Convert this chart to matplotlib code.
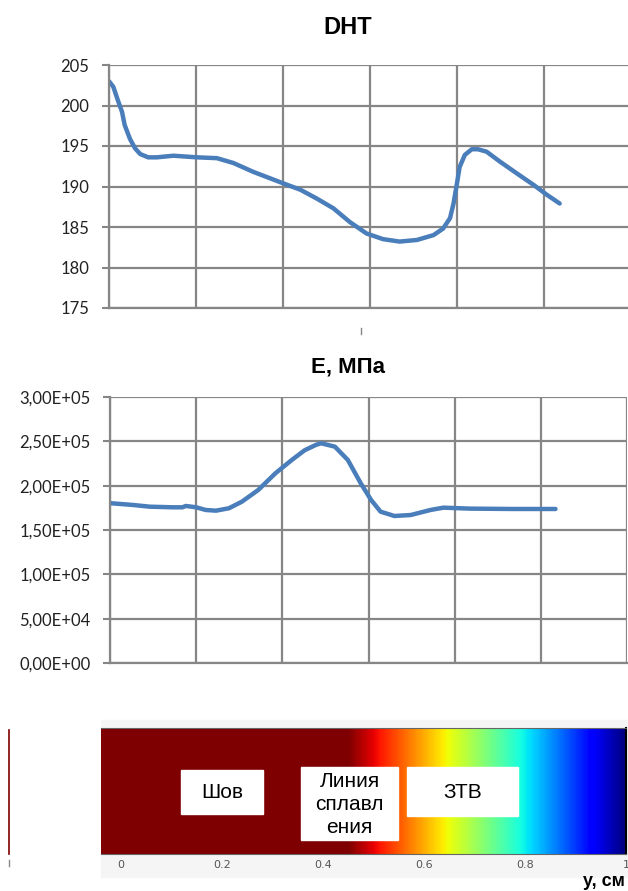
import numpy as np
import matplotlib.pyplot as plt
from matplotlib.patches import Rectangle

# DHT curve (x in grid units)
dht_x = [0, 0.05, 0.10, 0.15, 0.18, 0.24, 0.30, 0.36, 0.45, 0.55, 0.74, 1.01, 1.24, 1.43,
         1.66, 2.0, 2.20, 2.39, 2.58, 2.77, 2.96, 3.15, 3.34, 3.54, 3.73, 3.84, 3.92,
         3.96, 4.0, 4.03, 4.09, 4.17, 4.24, 4.34, 4.49, 4.69, 4.88, 5.03, 5.18]
dht_y = [203.0, 202.3, 200.7, 199.2, 197.6, 195.9, 194.7, 194.0, 193.6, 193.6, 193.8,
         193.6, 193.5, 192.9, 191.8, 190.4, 189.6, 188.5, 187.3, 185.6, 184.2, 183.5,
         183.2, 183.4, 184.0, 184.8, 186.1, 187.9, 190.4, 192.4, 193.9, 194.6, 194.6,
         194.3, 193.1, 191.6, 190.2, 189.0, 187.9]

# E, MPa curve
e_x = [0, 0.02, 0.27, 0.46, 0.73, 0.84, 0.88, 1.0, 1.11, 1.23, 1.38, 1.53, 1.72, 1.92,
       2.11, 2.26, 2.39, 2.45, 2.61, 2.76, 2.91, 3.03, 3.14, 3.30, 3.49, 3.72, 3.87,
       4.18, 4.68, 5.17]
e_y = [180.5e3, 180.1e3, 178.2e3, 176.3e3, 175.6e3, 175.6e3, 177.1e3, 175.6e3, 172.6e3,
       171.8e3, 174.5e3, 181.9e3, 195.1e3, 214e3, 229e3, 240e3, 246e3, 247.8e3, 244e3,
       229e3, 202.7e3, 183.9e3, 170.7e3, 165.8e3, 166.9e3, 172.6e3, 175.2e3, 174.1e3,
       173.7e3, 173.7e3]

# colour strip: position along y, cm
strip_pos = np.linspace(-0.04, 1.0, 400)
strip_ticks = [0, 0.2, 0.4, 0.6, 0.8, 1]
strip_ticklabels = ['0', '0.2', '0.4', '0.6', '0.8', '1']

W, H = 628, 891
fig = plt.figure(figsize=(W / 100, H / 100), dpi=100)


def fx(px):
    return px / W


def fy(py):
    return 1 - py / H


GRID = '#868686'
LINE = '#4a7ebb'
TICKFONT = 'Lato'


def style_axes(ax, yticks, ylabels):
    ax.set_xlim(0, 6)
    ax.set_xticks(range(7))
    ax.set_xticklabels([])
    ax.tick_params(axis='x', length=0)
    ax.set_yticks(yticks)
    ax.set_yticklabels(ylabels, fontsize=12, family=TICKFONT, color='#222222')
    ax.tick_params(axis='y', length=5, width=1.5, color=GRID, pad=9)
    ax.grid(True, color=GRID, linewidth=1.6)
    for s in ['top', 'right']:
        ax.spines[s].set_visible(False)
    for s in ['left', 'bottom']:
        ax.spines[s].set_color(GRID)
        ax.spines[s].set_linewidth(1.6)
    ax.set_axisbelow(True)


# top chart
ax1 = fig.add_axes([fx(109), fy(308), fx(631 - 109), 243 / H])
ax1.plot(dht_x, dht_y, color=LINE, linewidth=3.2, solid_capstyle='round', solid_joinstyle='round')
ax1.set_ylim(175, 205)
style_axes(ax1, range(175, 206, 5), [str(v) for v in range(175, 206, 5)])
fig.text(fx(348), fy(28), 'DHT', ha='center', va='center', fontsize=17,
         fontweight='bold', family='Liberation Sans')

# small stray tick between charts
fig.add_artist(plt.Line2D([fx(361), fx(361)], [fy(328), fy(334)], color=GRID, linewidth=1))

# bottom chart
ax2 = fig.add_axes([fx(110), fy(663), fx(627 - 110), 266 / H])
ax2.plot(e_x, e_y, color=LINE, linewidth=3.2, solid_capstyle='round', solid_joinstyle='round')
ax2.set_ylim(0, 3e5)
e_ticks = np.arange(0, 3.01e5, 5e4)
e_labels = ['0,00E+00', '5,00E+04', '1,00E+05', '1,50E+05', '2,00E+05', '2,50E+05', '3,00E+05']
style_axes(ax2, e_ticks, e_labels)
fig.text(fx(348), fy(367), 'E, МПа', ha='center', va='center', fontsize=16,
         fontweight='bold', family='Liberation Sans')

# colour strip
fig.add_artist(Rectangle((fx(101), fy(877)), fx(628 - 101), (877 - 720) / H,
                         transform=fig.transFigure, color='#f5f5f5', zorder=0))
ax3 = fig.add_axes([fx(101), fy(854), fx(626 - 101), 126 / H])
ax3.imshow(strip_pos[np.newaxis, :], cmap='jet_r', vmin=0.45, vmax=1.0, aspect='auto',
           extent=[-0.04, 1.0, 0, 1])
ax3.set_xlim(-0.04, 1.0)
ax3.set_yticks([])
ax3.set_xticks(strip_ticks)
ax3.set_xticklabels(strip_ticklabels, fontsize=8, color='#555555', family='DejaVu Sans')
ax3.tick_params(axis='x', length=0, pad=4)
for s in ['top', 'bottom', 'left']:
    ax3.spines[s].set_color('#666666')
    ax3.spines[s].set_linewidth(0.8)
ax3.spines['left'].set_visible(False)
ax3.spines['right'].set_color('black')
ax3.spines['right'].set_linewidth(1.5)

# label boxes on the strip
boxes = [
    ((181, 770, 263, 814), 'Шов'),
    ((301, 767, 398, 840), 'Линия\nсплавл\nения'),
    ((407, 767, 518, 816), 'ЗТВ'),
]
for (x0, y0, x1, y1), txt in boxes:
    fig.add_artist(Rectangle((fx(x0), fy(y1)), fx(x1 - x0), (y1 - y0) / H,
                             transform=fig.transFigure, color='white', zorder=5))
    fig.text(fx((x0 + x1) / 2), fy((y0 + y1) / 2 + 1), txt, ha='center', va='center',
             fontsize=15, family='Liberation Sans', linespacing=1.25, zorder=6)

fig.text(fx(625), fy(886), 'y, см', ha='right', va='baseline', fontsize=13,
         fontweight='bold', family='Liberation Sans')

# cut-off strip edge at the far left
fig.add_artist(plt.Line2D([fx(9), fx(9)], [fy(730), fy(854)], color='#7f0000', linewidth=1.2))
fig.add_artist(plt.Line2D([fx(9), fx(9)], [fy(860), fy(866)], color='#888888', linewidth=1))

fig.savefig('out.png', dpi=100)
